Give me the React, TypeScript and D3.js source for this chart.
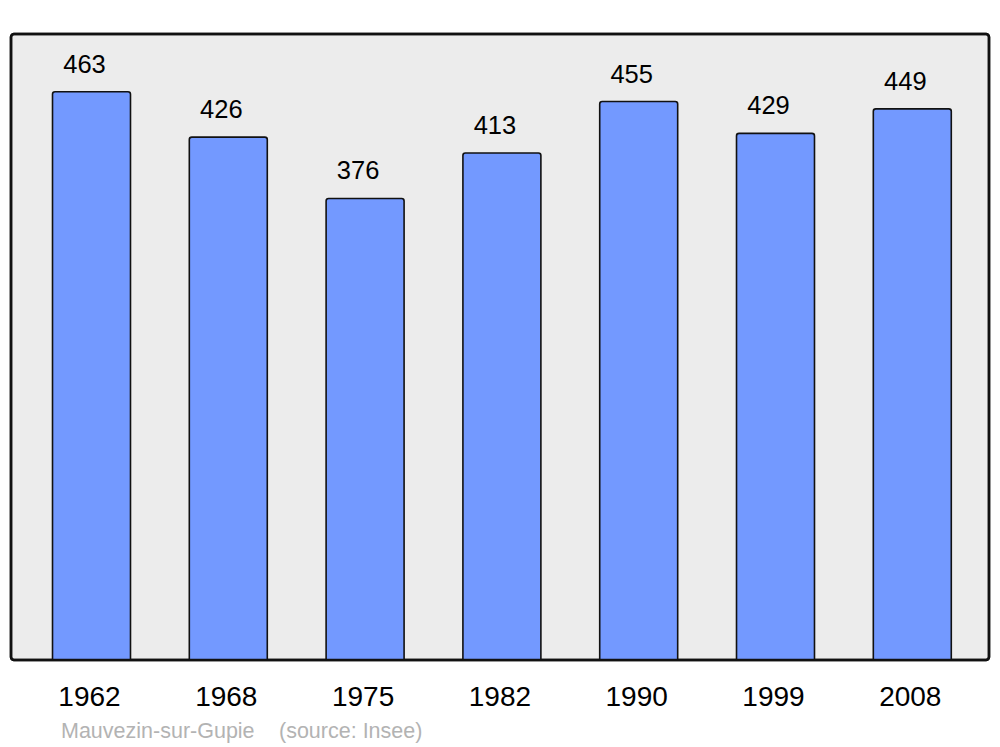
import React from "react";
import * as d3 from "d3";

const years = ["1962", "1968", "1975", "1982", "1990", "1999", "2008"];
const population = [463, 426, 376, 413, 455, 429, 449];
const commune = "Mauvezin-sur-Gupie";
const source = "(source: Insee)";

export default function App() {
  const W = 1000, H = 747;
  const frame = { x: 11, y: 34, w: 978, h: 626 };
  const step = 136.8;
  const x = d3
    .scaleBand<string>()
    .domain(years)
    .range([23.1, 23.1 + 7 * step])
    .paddingInner(0.43)
    .paddingOuter(0.215);
  const y = d3.scaleLinear().domain([0, 510]).range([frame.y + frame.h, frame.y]);
  const font = "'Liberation Sans', Arial, sans-serif";

  return (
    <svg width={W} height={H} style={{ position: "absolute", left: 0, top: 0 }} fontFamily={font}>
      <rect x={0} y={0} width={W} height={H} fill="#ffffff" />
      <rect
        x={frame.x}
        y={frame.y}
        width={frame.w}
        height={frame.h}
        rx={3}
        fill="#ececec"
        stroke="#111"
        strokeWidth={2.5}
      />
      {years.map((yr, i) => {
        const bx = x(yr)!;
        const by = y(population[i]);
        const bw = x.bandwidth();
        const cx = bx + bw / 2;
        return (
          <g key={yr}>
            <path
              d={`M${bx},${y(0)} L${bx},${by + 2.5} Q${bx},${by} ${bx + 2.5},${by} L${bx + bw - 2.5},${by} Q${bx + bw},${by} ${bx + bw},${by + 2.5} L${bx + bw},${y(0)}`}
              fill="#7399ff"
              stroke="#111"
              strokeWidth={1.6}
            />
            <text x={cx - 7} y={by - 19} textAnchor="middle" fontSize={25.5} fill="#000">
              {population[i]}
            </text>
            <text x={cx - 2} y={705.5} textAnchor="middle" fontSize={28} fill="#000">
              {yr}
            </text>
          </g>
        );
      })}
      <rect
        x={frame.x}
        y={frame.y}
        width={frame.w}
        height={frame.h}
        rx={3}
        fill="none"
        stroke="#111"
        strokeWidth={2.5}
      />
      <text x={61} y={737.5} fontSize={21.5} fill="#b3b3b3">
        {commune}
      </text>
      <text x={279} y={737.5} fontSize={21.5} fill="#b3b3b3">
        {source}
      </text>
    </svg>
  );
}
